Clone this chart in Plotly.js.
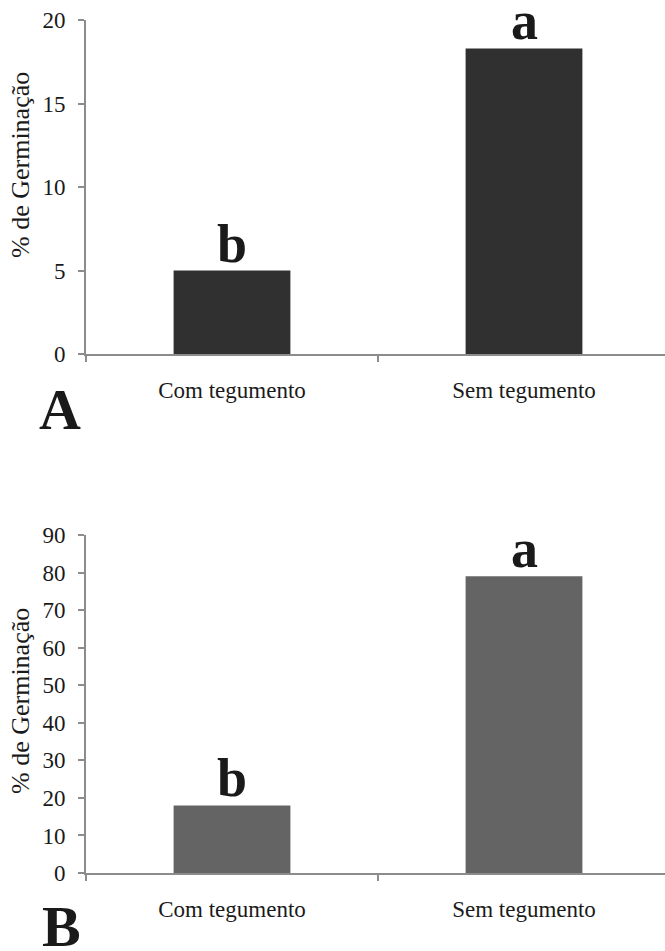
<!DOCTYPE html>
<html>
<head>
<meta charset="utf-8">
<script src="https://cdn.plot.ly/plotly-3.0.1.min.js"></script>
<style>html,body{margin:0;padding:0;background:#fff}#chart{width:665px;height:951px}</style>
</head>
<body>
<div id="chart"></div>
<script>
// ---- data ----
const categories = ["Com tegumento", "Sem tegumento"];
const valuesA = [5.0, 18.3];
const valuesB = [18.0, 79.0];
const lettersA = ["b", "a"];
const lettersB = ["b", "a"];
const yTicksA = [0, 5, 10, 15, 20];
const yTicksB = [0, 10, 20, 30, 40, 50, 60, 70, 80, 90];
const yTitle = "% de Germinação";
const panelLabels = ["A", "B"];

// ---- layout helpers (pixel -> paper) ----
const W = 665, H = 951;
const px = p => p / W;
const py = p => 1 - p / H;
const serif = "'Liberation Serif', 'Times New Roman', Times, serif";
const axisGray = "#8c8c8c";

const xCommon = {
  type: "category",
  range: [-0.5, 1.5 - 5 / 292],
  showline: true, linecolor: axisGray, linewidth: 2,
  ticks: "outside", tickson: "boundaries", ticklen: 6, tickwidth: 2, tickcolor: axisGray,
  showgrid: false, zeroline: false,
  tickfont: {family: serif, size: 23, color: "#1a1a1a"},
  ticklabelstandoff: 14,
  fixedrange: true
};
const yCommon = {
  showline: true, linecolor: axisGray, linewidth: 2,
  ticks: "outside", ticklen: 6, tickwidth: 2, tickcolor: axisGray,
  showgrid: false, zeroline: false,
  tickfont: {family: serif, size: 23, color: "#1a1a1a"},
  ticklabelstandoff: 8,
  fixedrange: true
};

const traces = [
  {type: "bar", x: categories, y: valuesA, xaxis: "x", yaxis: "y",
   width: 0.4, marker: {color: "#303030", line: {width: 0}}, hoverinfo: "none"},
  {type: "bar", x: categories, y: valuesB, xaxis: "x2", yaxis: "y2",
   width: 0.4, marker: {color: "#646464", line: {width: 0}}, hoverinfo: "none"}
];

const annotations = [];
categories.forEach((c, i) => {
  annotations.push({xref: "x", yref: "y", x: c, y: valuesA[i], text: lettersA[i],
    showarrow: false, yanchor: "bottom", yshift: -5,
    font: {family: serif, size: 54, color: "#1a1a1a", weight: "bold"}});
  annotations.push({xref: "x2", yref: "y2", x: c, y: valuesB[i], text: lettersB[i],
    showarrow: false, yanchor: "bottom", yshift: -5,
    font: {family: serif, size: 54, color: "#1a1a1a", weight: "bold"}});
});
annotations.push({xref: "paper", yref: "paper", x: px(20), y: py(165), text: yTitle,
  textangle: -90, showarrow: false, xanchor: "center", yanchor: "middle",
  font: {family: serif, size: 26, color: "#1a1a1a"}});
annotations.push({xref: "paper", yref: "paper", x: px(20), y: py(701), text: yTitle,
  textangle: -90, showarrow: false, xanchor: "center", yanchor: "middle",
  font: {family: serif, size: 26, color: "#1a1a1a"}});
annotations.push({xref: "paper", yref: "paper", x: px(60), y: py(409), text: panelLabels[0],
  showarrow: false, xanchor: "center", yanchor: "middle",
  font: {family: serif, size: 58, color: "#1a1a1a", weight: "bold"}});
annotations.push({xref: "paper", yref: "paper", x: px(61), y: py(926), text: panelLabels[1],
  showarrow: false, xanchor: "center", yanchor: "middle",
  font: {family: serif, size: 58, color: "#1a1a1a", weight: "bold"}});

const layout = {
  width: W, height: H,
  margin: {l: 0, r: 0, t: 0, b: 0, pad: 0},
  paper_bgcolor: "#fff", plot_bgcolor: "#fff",
  showlegend: false,
  xaxis: Object.assign({}, xCommon, {domain: [px(86), 1], anchor: "y"}),
  yaxis: Object.assign({}, yCommon, {domain: [py(354), py(20)], range: [0, 20], tickvals: yTicksA, anchor: "x"}),
  xaxis2: Object.assign({}, xCommon, {domain: [px(86), 1], anchor: "y2"}),
  yaxis2: Object.assign({}, yCommon, {domain: [py(873), py(535)], range: [0, 90], tickvals: yTicksB, anchor: "x2"}),
  annotations: annotations
};

Plotly.newPlot("chart", traces, layout, {displayModeBar: false, staticPlot: true});
</script>
</body>
</html>
